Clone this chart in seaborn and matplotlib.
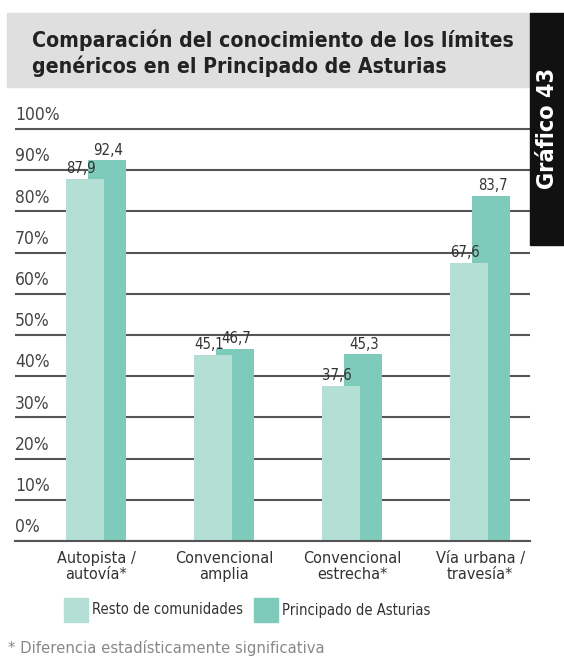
import matplotlib
matplotlib.use('Agg')
import numpy as np
import pandas as pd
import seaborn as sns
import matplotlib.pyplot as plt
from matplotlib import font_manager as fm
from matplotlib.patches import Rectangle
import matplotlib.transforms as mtransforms

# data
categories = ['Autopista /\nautovía*', 'Convencional\namplia',
              'Convencional\nestrecha*', 'Vía urbana /\ntravesía*']
resto = [87.9, 45.1, 37.6, 67.6]
asturias = [92.4, 46.7, 45.3, 83.7]
series_names = ['Resto de comunidades', 'Principado de Asturias']
yticks = [0, 10, 20, 30, 40, 50, 60, 70, 80, 90, 100]

light_color = '#b3dfd5'
dark_color = '#7ecabb'
grid_color = '#555555'
text_color = '#333333'

sns.set_style('white')
# narrowest font around; the original uses a condensed face
cond = [f.name for f in fm.fontManager.ttflist
        if 'Narrow' in f.name or 'Condensed' in f.name
        or f.stretch in ('condensed', 'semi-condensed', 'extra-condensed')]
family = cond[0] if cond else 'Roboto'
plt.rcParams['font.family'] = [family, 'DejaVu Sans']
plt.rcParams['font.stretch'] = 'condensed'

W, H = 564, 659
fig = plt.figure(figsize=(W / 100, H / 100), dpi=100)
ax = fig.add_axes([15 / W, (H - 541) / H, (530 - 15) / W, (541 - 127) / H])
renderer = fig.canvas.get_renderer()


def fit(t, width_px, k=1.0):
    w = t.get_window_extent(renderer).width
    t.set_fontsize(t.get_fontsize() * width_px / w * k)
    return t.get_fontsize()


bar_w = 0.297
shift = 0.086
pos = np.arange(len(categories))
df = pd.DataFrame({
    'pos': np.concatenate([pos - shift, pos + shift]),
    'valor': resto + asturias,
    'serie': [series_names[0]] * 4 + [series_names[1]] * 4,
})

sns.barplot(data=df[df.serie == series_names[1]], x='pos', y='valor', native_scale=True,
            orient='x', width=bar_w, color=dark_color, saturation=1, linewidth=0,
            ax=ax, zorder=2)
sns.barplot(data=df[df.serie == series_names[0]], x='pos', y='valor', native_scale=True,
            orient='x', width=bar_w, color=light_color, saturation=1, linewidth=0,
            ax=ax, zorder=3)

ax.set_xlim(-0.633, 3.39)
ax.set_ylim(0, 100.5)
ax.set_xlabel('')
ax.set_ylabel('')
for s in ['top', 'right', 'left']:
    ax.spines[s].set_visible(False)
ax.spines['bottom'].set_color(grid_color)
ax.spines['bottom'].set_linewidth(1.5)
ax.spines['bottom'].set_zorder(4)

ax.set_yticks(yticks)
ax.yaxis.grid(True, color=grid_color, linewidth=1.5, zorder=0)
ax.set_axisbelow(True)
ax.tick_params(axis='y', length=0, labelleft=False)

trans = mtransforms.blended_transform_factory(ax.transAxes, ax.transData)
ylabs = [ax.annotate(f'{t}%', xy=(0, t), xycoords=trans, xytext=(0, 3.5),
                     textcoords='offset points', ha='left', va='bottom',
                     fontsize=13.5, color='#444444', annotation_clip=False)
         for t in yticks]
fs = fit(ylabs[-1], 40, 1.12)
for t in ylabs:
    t.set_fontsize(fs)

ax.set_xticks(pos)
xl = ax.set_xticklabels(categories, fontsize=12.5, color=text_color, linespacing=1.1)
ax.tick_params(axis='x', length=0, pad=7)
fs = fit(xl[1], 88, 1.12)
for t in xl:
    t.set_fontsize(fs)

val_labels = []
for p, v, s in zip(df.pos, df.valor, df.serie):
    dx = -3 if s == series_names[0] else 1
    val_labels.append(ax.annotate(f'{v:.1f}'.replace('.', ','), xy=(p, v), xytext=(dx, 2),
                                  textcoords='offset points', ha='center', va='bottom',
                                  fontsize=12, color=text_color, zorder=5))
fs = fit(val_labels[0], 27, 1.1)
for t in val_labels:
    t.set_fontsize(fs)

# legend
leg_txt = []
for x0, col, lab in [(64, light_color, series_names[0]), (254, dark_color, series_names[1])]:
    fig.patches.append(Rectangle((x0 / W, (H - 622) / H), 24 / W, 24 / H,
                                 transform=fig.transFigure, color=col, figure=fig))
    leg_txt.append(fig.text((x0 + 28) / W, (H - 610) / H, lab, ha='left', va='center',
                            fontsize=13, color=text_color))
fs = fit(leg_txt[0], 150)
for t in leg_txt:
    t.set_fontsize(fs)

# title band
fig.patches.append(Rectangle((7 / W, (H - 87) / H), (530 - 7) / W, 74 / H,
                             transform=fig.transFigure, color='#dfdfdf', figure=fig, zorder=0))
fig.patches.append(Rectangle((530 / W, (H - 245) / H), 40 / W, (245 - 13) / H,
                             transform=fig.transFigure, color='#111111', figure=fig, zorder=0))
t1 = fig.text(32 / W, (H - 47) / H, 'Comparación del conocimiento de los límites',
              ha='left', va='baseline', fontsize=17.5, fontweight='bold', color='#222222')
t2 = fig.text(32 / W, (H - 73) / H, 'genéricos en el Principado de Asturias',
              ha='left', va='baseline', fontsize=17.5, fontweight='bold', color='#222222')
fs = fit(t1, 478)
t2.set_fontsize(fs)
g = fig.text(548 / W, (H - 128) / H, 'Gráfico 43', rotation=90, ha='center', va='center',
             fontsize=18, fontweight='bold', color='white')
w = g.get_window_extent(renderer).height
g.set_fontsize(g.get_fontsize() * 121 / w)

fn = fig.text(8 / W, (H - 648) / H, '* Diferencia estadísticamente significativa',
              ha='left', va='center', fontsize=14, color='#888888')
fit(fn, 316)

fig.savefig('out.png', dpi=100, facecolor='white')
